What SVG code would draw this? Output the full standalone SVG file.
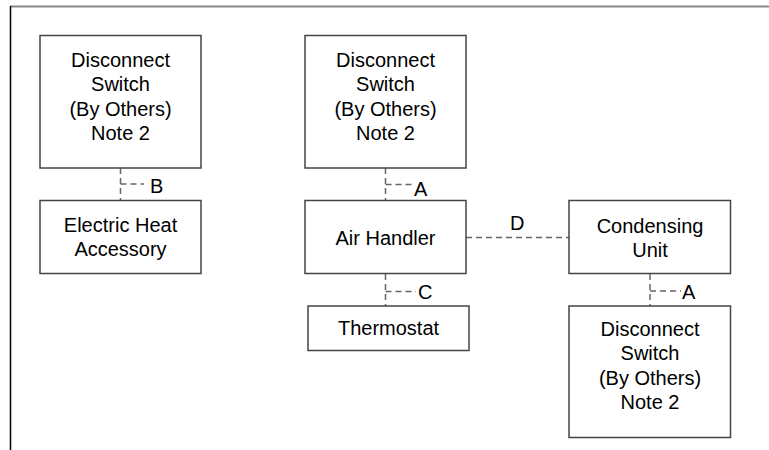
<svg xmlns="http://www.w3.org/2000/svg" width="769" height="450" viewBox="0 0 769 450">
<style>
.box{fill:#fff;stroke:#444;stroke-width:1.5}
.t{font-family:"Liberation Sans",Arial,sans-serif;font-size:20px;fill:#000;text-anchor:middle}
.l{font-family:"Liberation Sans",Arial,sans-serif;font-size:20px;fill:#000}
.c{fill:none;stroke:#666;stroke-width:1.5;stroke-dasharray:6,4}
</style>
<rect width="769" height="450" fill="#fff"/>
<g id="frame">
<line x1="10" y1="6.5" x2="769" y2="6.5" stroke="#888" stroke-width="2"/>
<line x1="10.5" y1="6" x2="10.5" y2="450" stroke="#000" stroke-width="1.5"/>
</g>
<g id="connectors">
<path class="c" d="M120.5,168V200M120.5,184H144"/>
<text class="l" x="150" y="193">B</text>
<path class="c" d="M385.5,168V200M385.5,184.5H412"/>
<text class="l" x="414" y="196">A</text>
<path class="c" d="M466,237.5H569"/>
<text class="l" x="510" y="230">D</text>
<path class="c" d="M385.5,274V306M385.5,291.5H416"/>
<text class="l" x="418" y="299">C</text>
<path class="c" d="M650,274V306M650,291H681"/>
<text class="l" x="682" y="299">A</text>
</g>
<g id="ds1">
<rect class="box" x="40" y="35.5" width="161" height="132.5"/>
<text class="t" x="120.5" y="67">Disconnect</text>
<text class="t" x="120.5" y="91">Switch</text>
<text class="t" x="120.5" y="115.5">(By Others)</text>
<text class="t" x="120.5" y="140">Note 2</text>
</g>
<g id="eha">
<rect class="box" x="40" y="200.5" width="161" height="73"/>
<text class="t" x="120.5" y="232">Electric Heat</text>
<text class="t" x="120.5" y="256">Accessory</text>
</g>
<g id="ds2">
<rect class="box" x="305" y="35.5" width="161" height="132.5"/>
<text class="t" x="385.5" y="67">Disconnect</text>
<text class="t" x="385.5" y="91">Switch</text>
<text class="t" x="385.5" y="115.5">(By Others)</text>
<text class="t" x="385.5" y="140">Note 2</text>
</g>
<g id="ah">
<rect class="box" x="305" y="200.5" width="161" height="73"/>
<text class="t" x="385.5" y="245">Air Handler</text>
</g>
<g id="cu">
<rect class="box" x="569" y="200.5" width="161.5" height="73"/>
<text class="t" x="650" y="233">Condensing</text>
<text class="t" x="650" y="257">Unit</text>
</g>
<g id="ts">
<rect class="box" x="308" y="306" width="161" height="44.5"/>
<text class="t" x="388.5" y="335">Thermostat</text>
</g>
<g id="ds3">
<rect class="box" x="569" y="306" width="161.5" height="131.5"/>
<text class="t" x="650" y="336">Disconnect</text>
<text class="t" x="650" y="360">Switch</text>
<text class="t" x="650" y="385">(By Others)</text>
<text class="t" x="650" y="409">Note 2</text>
</g>
</svg>
